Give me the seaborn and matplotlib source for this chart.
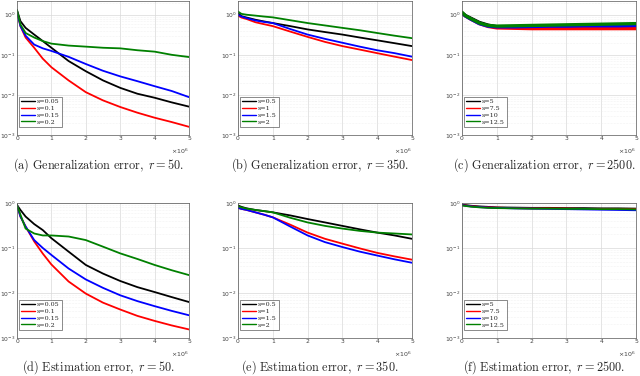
import numpy as np
import pandas as pd
import matplotlib
matplotlib.use("Agg")
import matplotlib.pyplot as plt
import seaborn as sns
from matplotlib.ticker import LogLocator, NullFormatter, FixedLocator

sns.set_theme(style="white")
plt.rcParams['font.family'] = ['DejaVu Sans']

# iterations (x 10^6)
x = [0, 0.1, 0.25, 0.5, 0.75, 1, 1.5, 2, 2.5, 3, 3.5, 4, 4.5, 5]

# (a) Generalization error, r = 50
labels_a = ["s=0.05", "s=0.1", "s=0.15", "s=0.2"]
gen_a_s005 = [1.3, 0.69, 0.47, 0.32, 0.22, 0.15, 0.07, 0.039, 0.023, 0.015, 0.0107, 0.0085, 0.0065, 0.0051]
gen_a_s01 = [1.2, 0.52, 0.27, 0.15, 0.08, 0.049, 0.023, 0.0117, 0.0073, 0.005, 0.0036, 0.0027, 0.0021, 0.0016]
gen_a_s015 = [1.2, 0.52, 0.30, 0.18, 0.145, 0.125, 0.089, 0.059, 0.040, 0.029, 0.022, 0.0165, 0.0125, 0.0088]
gen_a_s02 = [1.3, 0.57, 0.35, 0.27, 0.22, 0.19, 0.17, 0.16, 0.15, 0.145, 0.13, 0.12, 0.10, 0.088]

# (b) Generalization error, r = 350
labels_b = ["s=0.5", "s=1", "s=1.5", "s=2"]
gen_b_s05 = [1.1, 0.92, 0.85, 0.75, 0.68, 0.62, 0.52, 0.43, 0.37, 0.32, 0.27, 0.23, 0.195, 0.165]
gen_b_s1 = [0.95, 0.85, 0.78, 0.65, 0.58, 0.52, 0.38, 0.28, 0.21, 0.165, 0.135, 0.11, 0.09, 0.074]
gen_b_s15 = [1.0, 0.9, 0.82, 0.72, 0.66, 0.62, 0.44, 0.32, 0.25, 0.20, 0.16, 0.13, 0.11, 0.09]
gen_b_s2 = [1.2, 1.05, 1.0, 0.95, 0.9, 0.86, 0.73, 0.62, 0.54, 0.47, 0.41, 0.35, 0.30, 0.26]

# (c) Generalization error, r = 2500
labels_c = ["s=5", "s=7.5", "s=10", "s=12.5"]
gen_c_s5 = [1.1, 0.95, 0.82, 0.64, 0.55, 0.5, 0.49, 0.48, 0.48, 0.47, 0.47, 0.47, 0.47, 0.47]
gen_c_s75 = [1.1, 0.93, 0.78, 0.6, 0.51, 0.47, 0.46, 0.45, 0.45, 0.45, 0.45, 0.45, 0.45, 0.45]
gen_c_s10 = [1.1, 0.93, 0.78, 0.6, 0.52, 0.5, 0.5, 0.51, 0.52, 0.52, 0.53, 0.53, 0.53, 0.54]
gen_c_s125 = [1.15, 0.95, 0.8, 0.62, 0.54, 0.52, 0.53, 0.54, 0.55, 0.56, 0.57, 0.58, 0.59, 0.6]

# (d) Estimation error, r = 50
est_d_s005 = [0.9, 0.7, 0.5, 0.34, 0.25, 0.165, 0.083, 0.042, 0.027, 0.0185, 0.0135, 0.0105, 0.0081, 0.0063]
est_d_s01 = [0.9, 0.5, 0.30, 0.14, 0.075, 0.043, 0.018, 0.0097, 0.0061, 0.0043, 0.0031, 0.0024, 0.0019, 0.00155]
est_d_s015 = [0.9, 0.5, 0.30, 0.15, 0.1, 0.07, 0.035, 0.020, 0.013, 0.0089, 0.0066, 0.0051, 0.004, 0.0032]
est_d_s02 = [0.9, 0.55, 0.27, 0.21, 0.19, 0.19, 0.18, 0.15, 0.107, 0.076, 0.057, 0.042, 0.032, 0.025]

# (e) Estimation error, r = 350
est_e_s05 = [0.88, 0.82, 0.76, 0.7, 0.66, 0.62, 0.53, 0.44, 0.37, 0.31, 0.26, 0.22, 0.19, 0.16]
est_e_s1 = [0.78, 0.74, 0.7, 0.62, 0.55, 0.48, 0.33, 0.22, 0.16, 0.125, 0.098, 0.078, 0.065, 0.055]
est_e_s15 = [0.78, 0.74, 0.7, 0.62, 0.55, 0.48, 0.3, 0.19, 0.135, 0.105, 0.083, 0.068, 0.056, 0.047]
est_e_s2 = [0.85, 0.8, 0.75, 0.7, 0.66, 0.62, 0.47, 0.37, 0.31, 0.27, 0.24, 0.22, 0.21, 0.2]

# (f) Estimation error, r = 2500
est_f_s5 = [0.92, 0.9, 0.87, 0.84, 0.82, 0.8, 0.79, 0.78, 0.78, 0.77, 0.77, 0.76, 0.76, 0.75]
est_f_s75 = [0.9, 0.88, 0.85, 0.82, 0.8, 0.79, 0.77, 0.76, 0.76, 0.75, 0.74, 0.74, 0.73, 0.73]
est_f_s10 = [0.9, 0.87, 0.84, 0.81, 0.79, 0.78, 0.76, 0.75, 0.74, 0.73, 0.72, 0.71, 0.70, 0.69]
est_f_s125 = [0.88, 0.86, 0.83, 0.8, 0.78, 0.77, 0.76, 0.75, 0.75, 0.74, 0.74, 0.73, 0.73, 0.72]

captions = [
    r"$\mathrm{(a)\ Generalization\ error,\ }r=50\mathrm{.}$",
    r"$\mathrm{(b)\ Generalization\ error,\ }r=350\mathrm{.}$",
    r"$\mathrm{(c)\ Generalization\ error,\ }r=2500\mathrm{.}$",
    r"$\mathrm{(d)\ Estimation\ error,\ }r=50\mathrm{.}$",
    r"$\mathrm{(e)\ Estimation\ error,\ }r=350\mathrm{.}$",
    r"$\mathrm{(f)\ Estimation\ error,\ }r=2500\mathrm{.}$",
]

panels = [
    (labels_a, [gen_a_s005, gen_a_s01, gen_a_s015, gen_a_s02], 2.2, 1.3),
    (labels_b, [gen_b_s05, gen_b_s1, gen_b_s15, gen_b_s2], 2.2, 1.3),
    (labels_c, [gen_c_s5, gen_c_s75, gen_c_s10, gen_c_s125], 2.2, 2.4),
    (labels_a, [est_d_s005, est_d_s01, est_d_s015, est_d_s02], 1.0, 1.3),
    (labels_b, [est_e_s05, est_e_s1, est_e_s15, est_e_s2], 1.0, 1.3),
    (labels_c, [est_f_s5, est_f_s75, est_f_s10, est_f_s125], 1.0, 1.3),
]

palette = ["#000000", "#ff0000", "#0000ff", "#008000"]

fig = plt.figure(figsize=(6.4, 3.76), dpi=100)
W, H = 640.0, 376.0
lefts = [17, 238, 462]
widths = [172, 174, 174]
rows = [(1, 135), (203, 338)]
cap_y = [165, 367]

for i, (labels, series, ytop, lw) in enumerate(panels):
    r, c = divmod(i, 3)
    top, bot = rows[r]
    ax = fig.add_axes([lefts[c] / W, 1 - bot / H, widths[c] / W, (bot - top) / H])
    df = pd.DataFrame({
        "x": np.tile(x, len(labels)),
        "y": np.concatenate(series),
        "s": np.repeat(labels, len(x)),
    })
    sns.lineplot(data=df, x="x", y="y", hue="s", palette=palette, ax=ax,
                 linewidth=lw, legend=False, hue_order=labels)
    ax.set_yscale("log")
    ax.set_ylim(1e-3, ytop)
    ax.set_xlim(0, 5)
    ax.set_xlabel("")
    ax.set_ylabel("")
    ax.xaxis.set_major_locator(FixedLocator([0, 1, 2, 3, 4, 5]))
    ax.yaxis.set_major_locator(FixedLocator([1e-3, 1e-2, 1e-1, 1e0]))
    ax.yaxis.set_minor_locator(LogLocator(base=10, subs=np.arange(2, 10)))
    ax.yaxis.set_minor_formatter(NullFormatter())
    ax.grid(True, which="major", color="#d9d9d9", linewidth=0.5)
    ax.grid(True, which="minor", axis="y", color="#e8e8e8", linewidth=0.4, linestyle=":")
    ax.tick_params(axis="both", which="major", labelsize=4.3, colors="#404040",
                   direction="in", length=2, width=0.4, pad=1.0)
    ax.tick_params(axis="y", which="minor", direction="in", length=1, width=0.3)
    for sp in ax.spines.values():
        sp.set_color("#555555")
        sp.set_linewidth(0.5)
    ax.text(1.0, -0.085, r"$\times10^{6}$", transform=ax.transAxes, ha="right", va="top",
            fontsize=4.5, color="#404040")
    handles = [plt.Line2D([], [], color=col, linewidth=1.0) for col in palette]
    leg = ax.legend(handles, labels, loc="lower left", bbox_to_anchor=(0.012, 0.06),
                    fontsize=4.6, handlelength=2.1, handletextpad=0.3, borderpad=0.35,
                    labelspacing=0.2, frameon=True, fancybox=False, borderaxespad=0)
    leg.get_frame().set_edgecolor("#333333")
    leg.get_frame().set_linewidth(0.5)
    for t in leg.get_texts():
        t.set_fontfamily(["DejaVu Serif"])
    cx = (lefts[c] + widths[c] / 2) / W
    fig.text(cx - 5 / W, 1 - cap_y[r] / H, captions[i], ha="center", va="center",
             fontsize=8.8, math_fontfamily="cm")

fig.savefig("out.png", dpi=100)
